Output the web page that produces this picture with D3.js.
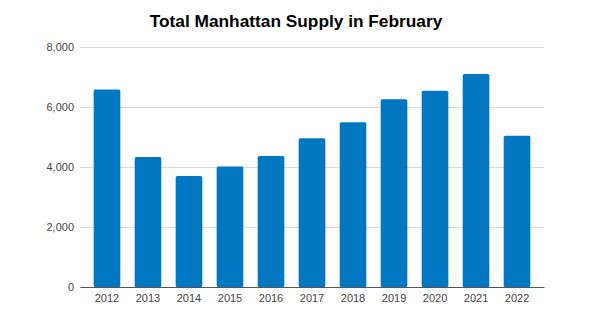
<!DOCTYPE html>
<html><head><meta charset="utf-8">
<script src="https://cdn.jsdelivr.net/npm/d3@7"></script>
<style>body{margin:0;background:#fff;}svg{display:block;font-family:"Liberation Sans",Arial,sans-serif;}</style>
</head><body>
<svg id="c" width="611" height="323"></svg>
<script>
const years = ["2012","2013","2014","2015","2016","2017","2018","2019","2020","2021","2022"];
const supply = [6580, 4335, 3700, 4020, 4365, 4960, 5490, 6255, 6545, 7100, 5045];
const yTicks = [0, 2000, 4000, 6000, 8000];
const title = "Total Manhattan Supply in February";

(function(){
const svg = d3.select("#c");
const mL = 80, mR = 544, mT = 47, mB = 287;
const x = d3.scaleBand().domain(years).range([mL, mR]).paddingInner(0.35).paddingOuter(0.333);
const y = d3.scaleLinear().domain([0, 8000]).range([mB, mT]);

svg.append("rect").attr("width",611).attr("height",323).attr("fill","#fff");

svg.append("text").attr("x",296).attr("y",26.5).attr("text-anchor","middle")
  .attr("font-size",17.3).attr("font-weight","bold").attr("fill","#000").text(title);

const ga = svg.append("g").attr("transform",`translate(${mL},0)`)
  .call(d3.axisLeft(y).tickValues(yTicks).tickSize(-(mR-mL)).tickPadding(6).tickFormat(d3.format(",")));
ga.select(".domain").remove();
ga.selectAll(".tick line").attr("stroke","#d9d9d9").attr("stroke-width",1);
ga.selectAll(".tick text").attr("font-size",11).attr("fill","#444").attr("font-family","Liberation Sans, Arial, sans-serif");

svg.append("g").selectAll("rect").data(years).join("rect")
  .attr("x", d => x(d)).attr("width", x.bandwidth())
  .attr("y", (d,i) => y(supply[i])).attr("height", (d,i) => y(0) - y(supply[i]))
  .attr("rx",1.5).attr("fill","#0077c0");

const gx = svg.append("g").attr("transform",`translate(0,${mB})`)
  .call(d3.axisBottom(x).tickSize(0).tickPadding(7));
gx.select(".domain").attr("stroke","#555");
gx.selectAll(".tick text").attr("font-size",11).attr("fill","#444").attr("font-family","Liberation Sans, Arial, sans-serif");
})();
</script>
</body></html>
